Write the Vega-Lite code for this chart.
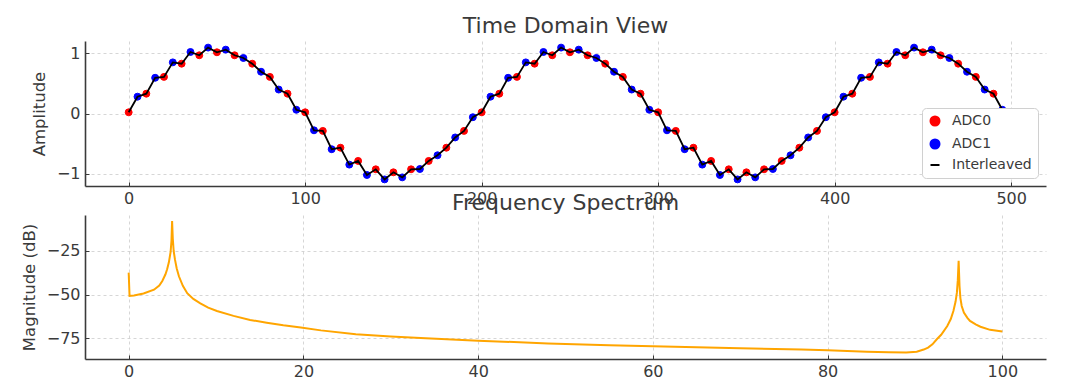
{
  "$schema": "https://vega.github.io/schema/vega-lite/v6.json",
  "background": "white",
  "padding": {"left": 21, "top": 15, "right": 5, "bottom": 5},
  "bounds": "flush",
  "spacing": 29,
  "resolve": {
    "scale": {"color": "independent", "stroke": "independent", "shape": "independent"},
    "legend": {"color": "independent", "stroke": "independent", "shape": "independent"}
  },
  "config": {
    "font": "DejaVu Sans",
    "view": {"stroke": null},
    "axis": {
      "labelFont": "DejaVu Sans",
      "titleFont": "DejaVu Sans",
      "labelFontSize": 16,
      "labelColor": "#3a3a3a",
      "titleFontSize": 16.5,
      "titleFontWeight": "normal",
      "titleColor": "#3a3a3a",
      "domainColor": "#3a3a3a",
      "domainWidth": 1.6,
      "tickColor": "#3a3a3a",
      "tickSize": -4,
      "tickWidth": 1,
      "gridColor": "#cccccc",
      "gridDash": [3, 3],
      "gridWidth": 0.8,
      "labelPadding": 8,
      "titlePadding": 9
    },
    "axisY": {"labelPadding": 9},
    "legend": {"labelFont": "DejaVu Sans", "labelFontSize": 14, "labelColor": "#3a3a3a"},
    "title": {"font": "DejaVu Sans", "fontSize": 22, "fontWeight": "normal", "color": "#3a3a3a", "anchor": "middle"}
  },
  "vconcat": [
    {
      "width": 961,
      "height": 145,
      "title": {"text": "Time Domain View", "offset": 3},
      "data": {"values": [
        {"t":0,"v":0.02,"s":"ADC0"},{"t":5,"v":0.28,"s":"ADC1"},
        {"t":10,"v":0.33,"s":"ADC0"},{"t":15,"v":0.595,"s":"ADC1"},
        {"t":20,"v":0.61,"s":"ADC0"},{"t":25,"v":0.852,"s":"ADC1"},
        {"t":30,"v":0.83,"s":"ADC0"},{"t":35,"v":1.025,"s":"ADC1"},
        {"t":40,"v":0.97,"s":"ADC0"},{"t":45,"v":1.098,"s":"ADC1"},
        {"t":50,"v":1.02,"s":"ADC0"},{"t":55,"v":1.064,"s":"ADC1"},
        {"t":60,"v":0.97,"s":"ADC0"},{"t":65,"v":0.925,"s":"ADC1"},
        {"t":70,"v":0.83,"s":"ADC0"},{"t":75,"v":0.696,"s":"ADC1"},
        {"t":80,"v":0.61,"s":"ADC0"},{"t":85,"v":0.399,"s":"ADC1"},
        {"t":90,"v":0.33,"s":"ADC0"},{"t":95,"v":0.062,"s":"ADC1"},
        {"t":100,"v":0.02,"s":"ADC0"},{"t":105,"v":-0.28,"s":"ADC1"},
        {"t":110,"v":-0.29,"s":"ADC0"},{"t":115,"v":-0.595,"s":"ADC1"},
        {"t":120,"v":-0.57,"s":"ADC0"},{"t":125,"v":-0.852,"s":"ADC1"},
        {"t":130,"v":-0.79,"s":"ADC0"},{"t":135,"v":-1.025,"s":"ADC1"},
        {"t":140,"v":-0.93,"s":"ADC0"},{"t":145,"v":-1.098,"s":"ADC1"},
        {"t":150,"v":-0.98,"s":"ADC0"},{"t":155,"v":-1.064,"s":"ADC1"},
        {"t":160,"v":-0.93,"s":"ADC0"},{"t":165,"v":-0.925,"s":"ADC1"},
        {"t":170,"v":-0.79,"s":"ADC0"},{"t":175,"v":-0.696,"s":"ADC1"},
        {"t":180,"v":-0.57,"s":"ADC0"},{"t":185,"v":-0.399,"s":"ADC1"},
        {"t":190,"v":-0.29,"s":"ADC0"},{"t":195,"v":-0.062,"s":"ADC1"},
        {"t":200,"v":0.02,"s":"ADC0"},{"t":205,"v":0.28,"s":"ADC1"},
        {"t":210,"v":0.33,"s":"ADC0"},{"t":215,"v":0.595,"s":"ADC1"},
        {"t":220,"v":0.61,"s":"ADC0"},{"t":225,"v":0.852,"s":"ADC1"},
        {"t":230,"v":0.83,"s":"ADC0"},{"t":235,"v":1.025,"s":"ADC1"},
        {"t":240,"v":0.97,"s":"ADC0"},{"t":245,"v":1.098,"s":"ADC1"},
        {"t":250,"v":1.02,"s":"ADC0"},{"t":255,"v":1.064,"s":"ADC1"},
        {"t":260,"v":0.97,"s":"ADC0"},{"t":265,"v":0.925,"s":"ADC1"},
        {"t":270,"v":0.83,"s":"ADC0"},{"t":275,"v":0.696,"s":"ADC1"},
        {"t":280,"v":0.61,"s":"ADC0"},{"t":285,"v":0.399,"s":"ADC1"},
        {"t":290,"v":0.33,"s":"ADC0"},{"t":295,"v":0.062,"s":"ADC1"},
        {"t":300,"v":0.02,"s":"ADC0"},{"t":305,"v":-0.28,"s":"ADC1"},
        {"t":310,"v":-0.29,"s":"ADC0"},{"t":315,"v":-0.595,"s":"ADC1"},
        {"t":320,"v":-0.57,"s":"ADC0"},{"t":325,"v":-0.852,"s":"ADC1"},
        {"t":330,"v":-0.79,"s":"ADC0"},{"t":335,"v":-1.025,"s":"ADC1"},
        {"t":340,"v":-0.93,"s":"ADC0"},{"t":345,"v":-1.098,"s":"ADC1"},
        {"t":350,"v":-0.98,"s":"ADC0"},{"t":355,"v":-1.064,"s":"ADC1"},
        {"t":360,"v":-0.93,"s":"ADC0"},{"t":365,"v":-0.925,"s":"ADC1"},
        {"t":370,"v":-0.79,"s":"ADC0"},{"t":375,"v":-0.696,"s":"ADC1"},
        {"t":380,"v":-0.57,"s":"ADC0"},{"t":385,"v":-0.399,"s":"ADC1"},
        {"t":390,"v":-0.29,"s":"ADC0"},{"t":395,"v":-0.062,"s":"ADC1"},
        {"t":400,"v":0.02,"s":"ADC0"},{"t":405,"v":0.28,"s":"ADC1"},
        {"t":410,"v":0.33,"s":"ADC0"},{"t":415,"v":0.595,"s":"ADC1"},
        {"t":420,"v":0.61,"s":"ADC0"},{"t":425,"v":0.852,"s":"ADC1"},
        {"t":430,"v":0.83,"s":"ADC0"},{"t":435,"v":1.025,"s":"ADC1"},
        {"t":440,"v":0.97,"s":"ADC0"},{"t":445,"v":1.098,"s":"ADC1"},
        {"t":450,"v":1.02,"s":"ADC0"},{"t":455,"v":1.064,"s":"ADC1"},
        {"t":460,"v":0.97,"s":"ADC0"},{"t":465,"v":0.925,"s":"ADC1"},
        {"t":470,"v":0.83,"s":"ADC0"},{"t":475,"v":0.696,"s":"ADC1"},
        {"t":480,"v":0.61,"s":"ADC0"},{"t":485,"v":0.399,"s":"ADC1"},
        {"t":490,"v":0.33,"s":"ADC0"},{"t":495,"v":0.062,"s":"ADC1"}
      ]},
      "layer": [
        {
          "mark": {"type": "point", "filled": true, "opacity": 1, "strokeWidth": 1, "size": 48},
          "encoding": {
            "x": {"field": "t", "type": "quantitative", "scale": {"domain": [-24.75, 519.75], "nice": false, "zero": false}, "axis": {"values": [0, 100, 200, 300, 400, 500], "title": null}},
            "y": {"field": "v", "type": "quantitative", "scale": {"domain": [-1.208, 1.208], "nice": false, "zero": false}, "axis": {"values": [-1, 0, 1], "format": "d", "title": "Amplitude"}},
            "color": {
              "field": "s", "type": "nominal",
              "scale": {"domain": ["ADC0", "ADC1", "Interleaved"], "range": ["#ff0000", "#0000ff", "#000000"]},
              "legend": {
                "title": null, "orient": "bottom-right", "offset": 8,
                "fillColor": "white", "strokeColor": "#d0d0d0", "cornerRadius": 4, "padding": 6,
                "rowPadding": 5, "labelOffset": 10, "symbolStrokeWidth": 2, "symbolSize": 81
              }
            },
            "stroke": {
              "field": "s", "type": "nominal",
              "scale": {"domain": ["ADC0", "ADC1", "Interleaved"], "range": ["#ff0000", "#0000ff", "#000000"]},
              "legend": {"title": null}
            },
            "shape": {
              "field": "s", "type": "nominal",
              "scale": {"domain": ["ADC0", "ADC1", "Interleaved"], "range": ["circle", "circle", "stroke"]},
              "legend": {"title": null}
            }
          }
        },
        {
          "mark": {"type": "line", "color": "#000000", "strokeWidth": 1.8},
          "encoding": {
            "x": {"field": "t", "type": "quantitative"},
            "y": {"field": "v", "type": "quantitative"}
          }
        }
      ]
    },
    {
      "width": 961,
      "height": 144,
      "title": {"text": "Frequency Spectrum", "offset": 0},
      "data": {"values": [
        {"f":0,"db":-37.4},{"f":0.1,"db":-50.8},{"f":0.6,"db":-50.5},{"f":1.7,"db":-49.4},
        {"f":2.9,"db":-47.2},{"f":3.5,"db":-44.8},{"f":3.85,"db":-42.2},{"f":4.2,"db":-38.5},
        {"f":4.4,"db":-35.5},{"f":4.6,"db":-31.5},{"f":4.8,"db":-25.5},{"f":4.9,"db":-19},
        {"f":4.97,"db":-7.8},{"f":5.05,"db":-18},{"f":5.15,"db":-25},{"f":5.3,"db":-30},
        {"f":5.5,"db":-35},{"f":5.75,"db":-39.5},{"f":6.2,"db":-45},{"f":6.7,"db":-49.2},
        {"f":7.4,"db":-52.5},{"f":8.2,"db":-55},{"f":9.1,"db":-57.5},{"f":10.1,"db":-59.4},
        {"f":12,"db":-62.2},{"f":13.9,"db":-64.5},{"f":15.8,"db":-66.1},{"f":17.7,"db":-67.6},
        {"f":19.7,"db":-68.9},{"f":22,"db":-70.5},{"f":26,"db":-72.7},{"f":30,"db":-74},
        {"f":34,"db":-75},{"f":40,"db":-76.4},{"f":48,"db":-78},{"f":55,"db":-79},
        {"f":60,"db":-79.6},{"f":70,"db":-80.7},{"f":77,"db":-81.5},{"f":80,"db":-81.9},
        {"f":84.5,"db":-82.7},{"f":87,"db":-83.1},{"f":89,"db":-83.2},{"f":90.2,"db":-82.7},
        {"f":91,"db":-81.5},{"f":91.5,"db":-80.4},{"f":92,"db":-78.5},{"f":92.5,"db":-75.6},
        {"f":93,"db":-73},{"f":93.7,"db":-68},{"f":94.1,"db":-64},{"f":94.4,"db":-59.4},
        {"f":94.65,"db":-54},{"f":94.8,"db":-48.9},{"f":94.9,"db":-42},{"f":95.0,"db":-30.7},
        {"f":95.1,"db":-45},{"f":95.2,"db":-52},{"f":95.35,"db":-56.5},{"f":95.6,"db":-60.3},
        {"f":96,"db":-63.3},{"f":96.3,"db":-65.1},{"f":97,"db":-67.2},{"f":97.5,"db":-68.4},
        {"f":98.6,"db":-70.2},{"f":100,"db":-71.2}
      ]},
      "mark": {"type": "line", "color": "#ffa500", "strokeWidth": 2},
      "encoding": {
        "x": {"field": "f", "type": "quantitative", "scale": {"domain": [-5, 105], "nice": false, "zero": false}, "axis": {"values": [0, 20, 40, 60, 80, 100], "title": null}},
        "y": {"field": "db", "type": "quantitative", "scale": {"domain": [-86.9, -4.4], "nice": false, "zero": false}, "axis": {"values": [-25, -50, -75], "title": "Magnitude (dB)"}}
      }
    }
  ]
}
